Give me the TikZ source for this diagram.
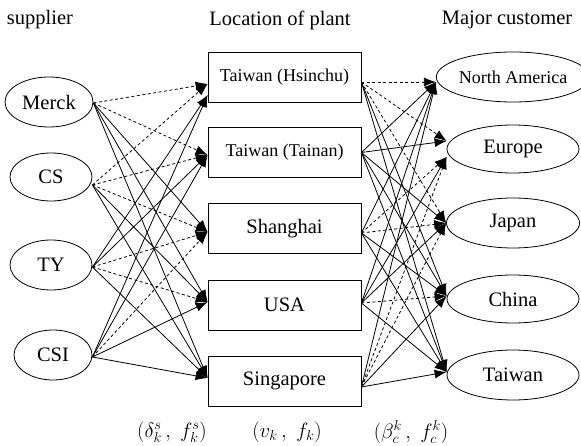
\documentclass[tikz,border=0pt]{standalone}
\usepackage{fontspec}
\setmainfont{Liberation Serif}
\usetikzlibrary{arrows.meta,shapes.geometric}
\begin{document}
\begin{tikzpicture}[x=1pt,y=-1pt,
  ell/.style={draw,ellipse,line width=0.8pt,inner sep=0pt,font=\fontsize{20.5}{24}\selectfont},
  plantbox/.style={draw,rectangle,line width=0.8pt,minimum width=153pt,minimum height=50pt,inner sep=0pt,font=\fontsize{20.5}{24}\selectfont},
  hdr/.style={font=\fontsize{20.5}{24}\selectfont,inner sep=0pt},
  lbl/.style={font=\fontsize{22}{26}\selectfont,inner sep=0pt},
  sol/.style={line width=0.8pt,-{Latex[length=12pt,width=9pt]}},
  dsh/.style={line width=0.8pt,dash pattern=on 3pt off 2.5pt,-{Latex[length=12pt,width=9pt]}}]
\useasboundingbox (0,0) rectangle (581,446);
% headers
\node[hdr] (h1) at (40,20) {supplier};
\node[hdr] (h2) at (280,20) {Location of plant};
\node[hdr] (h3) at (507,20) {Major customer};
% suppliers
\node[ell,minimum width=88pt,minimum height=50pt] (merck) at (49,102) {Merck};
\node[ell,minimum width=82pt,minimum height=48pt] (cs) at (51,177) {CS};
\node[ell,minimum width=82pt,minimum height=50pt] (ty) at (51,265) {TY};
\node[ell,minimum width=78pt,minimum height=50pt] (csi) at (53,355) {CSI};
% plants
\node[plantbox,font=\fontsize{18}{22}\selectfont] (p1) at (284.5,77) {Taiwan (Hsinchu)};
\node[plantbox,font=\fontsize{18}{22}\selectfont] (p2) at (284.5,152.5) {Taiwan (Tainan)};
\node[plantbox] (p3) at (284.5,228.5) {Shanghai};
\node[plantbox] (p4) at (284.5,305) {USA};
\node[plantbox] (p5) at (284.5,381) {Singapore};
% customers
\node[ell,minimum width=133pt,minimum height=50pt,font=\fontsize{18}{22}\selectfont] (na) at (513,77) {North America};
\node[ell,minimum width=132pt,minimum height=48pt] (eu) at (513,149) {Europe};
\node[ell,minimum width=133pt,minimum height=50pt] (jp) at (513,223) {Japan};
\node[ell,minimum width=132pt,minimum height=48pt] (cn) at (513,299) {China};
\node[ell,minimum width=132pt,minimum height=50pt] (tw) at (513,375) {Taiwan};
% bottom labels
\node[lbl] (l1) at (172,432) {$(\delta_k^s\,,\;f_k^s)$};
\node[lbl] (l2) at (287,432) {$(v_k\,,\;f_k)$};
\node[lbl] (l3) at (411,432) {$(\beta_c^k\,,\;f_c^k)$};
% supplier -> plant
\draw[dsh] ([yshift=-1pt]merck.east) -- ([yshift=-7pt]p1.west);
\draw[dsh] ([yshift=-1pt]merck.east) -- ([yshift=-2.5pt]p2.west);
\draw[sol] ([yshift=-1pt]merck.east) -- ([yshift=-3.5pt]p3.west);
\draw[sol] ([yshift=-1pt]merck.east) -- ([yshift=3pt]p4.west);
\draw[sol] ([yshift=-1pt]merck.east) -- ([yshift=3pt]p5.west);
\draw[dsh] ([yshift=-8pt]cs.east) -- ([yshift=-7pt]p1.west);
\draw[dsh] ([yshift=-8pt]cs.east) -- ([yshift=-2.5pt]p2.west);
\draw[dsh] ([yshift=-8pt]cs.east) -- ([yshift=-3.5pt]p3.west);
\draw[sol] ([yshift=-8pt]cs.east) -- ([yshift=3pt]p4.west);
\draw[sol] ([yshift=-8pt]cs.east) -- ([yshift=3pt]p5.west);
\draw[sol] ([yshift=-2pt]ty.east) -- ([yshift=-18pt]p1.west);
\draw[sol] ([yshift=-2pt]ty.east) -- ([yshift=-2.5pt]p2.west);
\draw[dsh] ([yshift=-2pt]ty.east) -- ([yshift=-3.5pt]p3.west);
\draw[dsh] ([yshift=-2pt]ty.east) -- ([yshift=3pt]p4.west);
\draw[sol] ([yshift=-2pt]ty.east) -- ([yshift=3pt]p5.west);
\draw[sol] ([yshift=-2pt]csi.east) -- ([yshift=-18pt]p1.west);
\draw[sol] ([yshift=-2pt]csi.east) -- ([yshift=-2.5pt]p2.west);
\draw[dsh] ([yshift=-2pt]csi.east) -- ([yshift=-3.5pt]p3.west);
\draw[sol] ([yshift=-2pt]csi.east) -- ([yshift=3pt]p4.west);
\draw[sol] ([yshift=-2pt]csi.east) -- ([yshift=3pt]p5.west);
% plant -> customer
\draw[dsh] ([yshift=-5pt]p1.east) -- ([yshift=-5pt]na.west);
\draw[dsh] ([yshift=-5pt]p1.east) -- ([yshift=8pt]eu.west);
\draw[dsh] ([yshift=-5pt]p1.east) -- (jp.west);
\draw[sol] ([yshift=-5pt]p1.east) -- ([yshift=3pt]cn.west);
\draw[sol] ([yshift=-5pt]p1.east) -- ([yshift=3pt]tw.west);
\draw[sol] (p2.east) -- ([yshift=-5pt]na.west);
\draw[sol] (p2.east) -- ([yshift=8pt]eu.west);
\draw[sol] (p2.east) -- (jp.west);
\draw[sol] (p2.east) -- ([yshift=3pt]cn.west);
\draw[sol] (p2.east) -- ([yshift=3pt]tw.west);
\draw[sol] ([yshift=-4.5pt]p3.east) -- ([yshift=-5pt]na.west);
\draw[dsh] ([yshift=-4.5pt]p3.east) -- ([yshift=-8pt]eu.west);
\draw[dsh] ([yshift=-4.5pt]p3.east) -- (jp.west);
\draw[sol] ([yshift=-4.5pt]p3.east) -- ([yshift=3pt]cn.west);
\draw[sol] ([yshift=-4.5pt]p3.east) -- ([yshift=3pt]tw.west);
\draw[sol] ([yshift=2pt]p4.east) -- ([yshift=-5pt]na.west);
\draw[sol] ([yshift=2pt]p4.east) -- ([yshift=-8pt]eu.west);
\draw[sol] ([yshift=2pt]p4.east) -- (jp.west);
\draw[dsh] ([yshift=2pt]p4.east) -- ([yshift=3pt]cn.west);
\draw[sol] ([yshift=2pt]p4.east) -- ([yshift=3pt]tw.west);
\draw[sol] ([yshift=-6pt]p5.east) -- ([yshift=-5pt]na.west);
\draw[dsh] ([yshift=-6pt]p5.east) -- ([yshift=-8pt]eu.west);
\draw[dsh] ([yshift=-6pt]p5.east) -- (jp.west);
\draw[sol] ([yshift=-6pt]p5.east) -- ([yshift=3pt]cn.west);
\draw[sol] ([yshift=-6pt]p5.east) -- ([yshift=3pt]tw.west);
\end{tikzpicture}
\end{document}
